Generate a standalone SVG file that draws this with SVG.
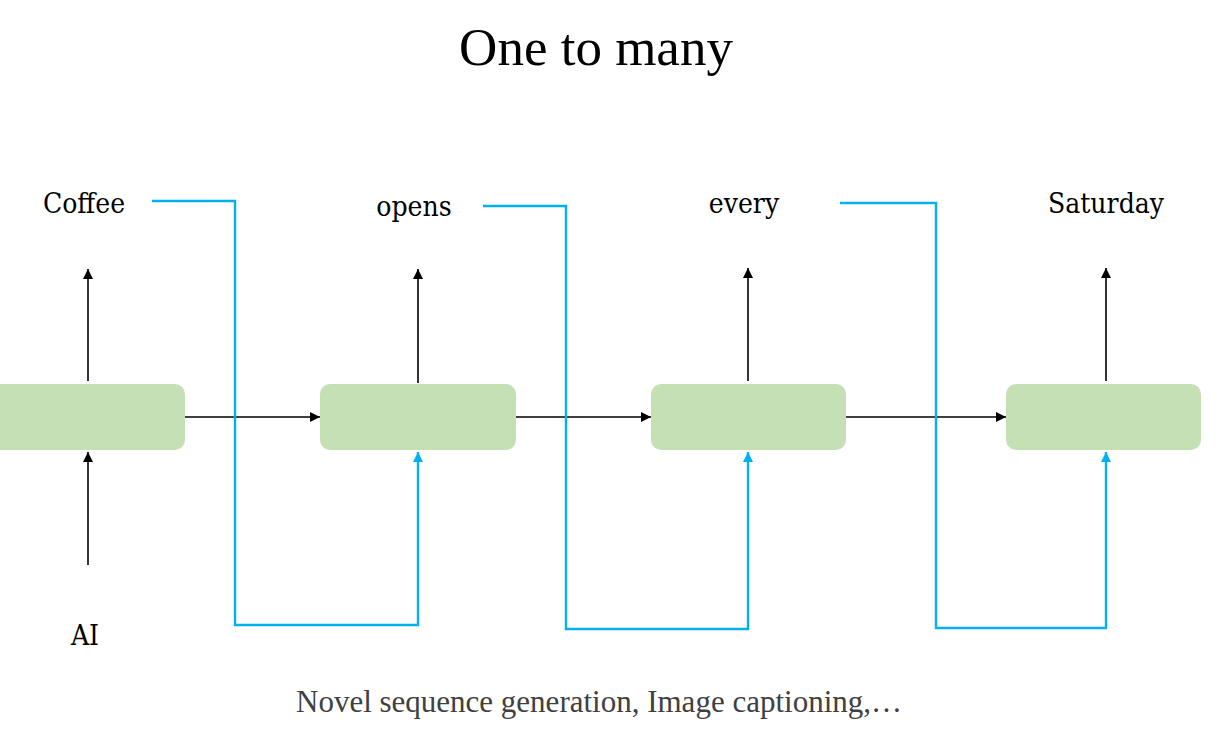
<svg xmlns="http://www.w3.org/2000/svg" width="1227" height="736" viewBox="0 0 1227 736">
<defs>
<style>
.cell{fill:#C5E0B4;}
.lbl{font-family:"DejaVu Serif Condensed","DejaVu Serif","Liberation Serif",serif;font-stretch:condensed;font-size:28px;fill:#000;text-anchor:middle;}
.blk{stroke:#000;stroke-width:1.6;fill:none;}
.blue{stroke:#00B0F0;stroke-width:2.4;fill:none;}
</style>
<marker id="ah" viewBox="0 0 10 10" refX="10" refY="5" markerWidth="11" markerHeight="10" markerUnits="userSpaceOnUse" orient="auto">
<path d="M0,0 L10,5 L0,10 z" fill="#000"/>
</marker>
<marker id="ahb" viewBox="0 0 10 10" refX="10" refY="5" markerWidth="11" markerHeight="10" markerUnits="userSpaceOnUse" orient="auto">
<path d="M0,0 L10,5 L0,10 z" fill="#00B0F0"/>
</marker>
</defs>
<rect width="1227" height="736" fill="#fff"/>
<text x="596" y="65" font-family="Liberation Serif,serif" font-size="53" text-anchor="middle" fill="#000">One to many</text>
<g id="cell1"><rect class="cell" x="-12" y="384" width="197" height="66" rx="10"/></g>
<g id="cell2"><rect class="cell" x="320" y="384" width="196" height="66" rx="10"/></g>
<g id="cell3"><rect class="cell" x="651" y="384" width="195" height="66" rx="10"/></g>
<g id="cell4"><rect class="cell" x="1006" y="384" width="195" height="66" rx="10"/></g>
<g id="labels">
<text class="lbl" x="84" y="213">Coffee</text>
<text class="lbl" x="414" y="216">opens</text>
<text class="lbl" x="744" y="213">every</text>
<text class="lbl" x="1106" y="213">Saturday</text>
<text class="lbl" x="85" y="645">AI</text>
</g>
<g id="connectors">
<path class="blk" d="M88,381 V269" marker-end="url(#ah)"/>
<path class="blk" d="M418,383 V269" marker-end="url(#ah)"/>
<path class="blk" d="M748,381 V268" marker-end="url(#ah)"/>
<path class="blk" d="M1106,381 V268" marker-end="url(#ah)"/>
<path class="blk" d="M88,565 V452" marker-end="url(#ah)"/>
<path class="blk" d="M185,417 H320" marker-end="url(#ah)"/>
<path class="blk" d="M516,417 H651" marker-end="url(#ah)"/>
<path class="blk" d="M846,417 H1006" marker-end="url(#ah)"/>
<path class="blue" d="M152,201 H235 V625 H418 V452" marker-end="url(#ahb)"/>
<path class="blue" d="M483,206 H566 V629 H748 V452" marker-end="url(#ahb)"/>
<path class="blue" d="M840,203 H936 V628 H1106 V452" marker-end="url(#ahb)"/>
</g>
<text x="599" y="712" font-family="Liberation Serif,serif" font-size="31" text-anchor="middle" fill="#404040">Novel sequence generation, Image captioning,…</text>
</svg>
